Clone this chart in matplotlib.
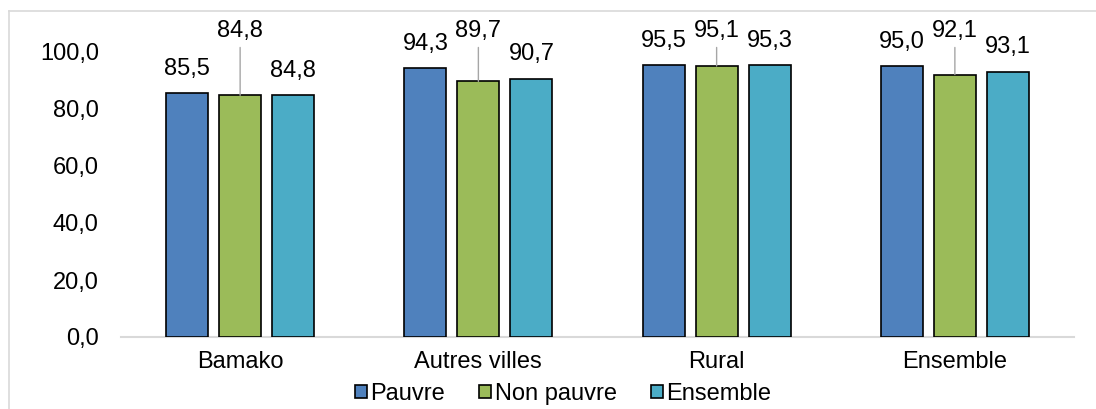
import matplotlib.pyplot as plt
import matplotlib.lines as mlines
import numpy as np
from matplotlib.ticker import FuncFormatter

plt.rcParams["font.family"] = ["Liberation Sans", "DejaVu Sans"]

categories = ["Bamako", "Autres villes", "Rural", "Ensemble"]
series_names = ["Pauvre", "Non pauvre", "Ensemble"]
pauvre = [85.5, 94.3, 95.5, 95.0]
non_pauvre = [84.8, 89.7, 95.1, 92.1]
ensemble = [84.8, 90.7, 95.3, 93.1]
yticks = [0, 20, 40, 60, 80, 100]

colors = ["#4F81BD", "#9BBB59", "#4BACC6"]
FS = 17

fig = plt.figure(figsize=(10.96, 4.09), dpi=100)
ax = fig.add_axes([121 / 1096, 1 - 337 / 409, (1074 - 121) / 1096, (337 - 52) / 409])

x = np.arange(len(categories))
width = 0.176
step = 0.2225
series = [pauvre, non_pauvre, ensemble]

for i, (vals, name, col) in enumerate(zip(series, series_names, colors)):
    xpos = x + (i - 1) * step
    ax.bar(xpos, vals, width, color=col, edgecolor="black",
           linewidth=1.2, label=name, zorder=3)
    for xp, v in zip(xpos, vals):
        txt = f"{v:.1f}".replace(".", ",")
        if i == 1:
            # label pushed above, with a leader line
            ax.annotate(txt, xy=(xp, v), xytext=(xp, 107.4),
                        textcoords="data", ha="center", va="center",
                        fontsize=FS, annotation_clip=False,
                        arrowprops=dict(arrowstyle="-", color="#A6A6A6",
                                        lw=1.0, shrinkA=2, shrinkB=0))
        else:
            ax.annotate(txt, xy=(xp, v), xytext=(0, 17.5),
                        textcoords="offset points", ha="center", va="center",
                        fontsize=FS, annotation_clip=False)

ax.set_xlim(-0.5, len(categories) - 0.5)
ax.set_ylim(0, 100)
ax.set_yticks(yticks)
ax.yaxis.set_major_formatter(FuncFormatter(lambda v, p: f"{v:.1f}".replace(".", ",")))
ax.set_xticks(x)
ax.set_xticklabels(categories)
ax.tick_params(axis="both", length=0, labelsize=FS)
ax.tick_params(axis="y", pad=16)
ax.tick_params(axis="x", pad=10)

for s in ["top", "right", "left"]:
    ax.spines[s].set_visible(False)
ax.spines["bottom"].set_color("#D9D9D9")
ax.spines["bottom"].set_linewidth(1.5)

# Legend
handles, labels = ax.get_legend_handles_labels()
fig.legend(handles, labels, loc="center", bbox_to_anchor=(563 / 1096, 1 - 394 / 409),
           ncol=3, frameon=False, fontsize=FS, handlelength=0.5, handleheight=0.5,
           handletextpad=0.15, columnspacing=1.45, borderaxespad=0)

# chart border (partially visible)
fig.add_artist(mlines.Line2D([9 / 1096, 1.0], [1 - 11 / 409, 1 - 11 / 409],
                             color="#D9D9D9", lw=1.2))
fig.add_artist(mlines.Line2D([9 / 1096, 9 / 1096], [0.0, 1 - 11 / 409],
                             color="#D9D9D9", lw=1.2))

fig.savefig("out.png", dpi=100)
